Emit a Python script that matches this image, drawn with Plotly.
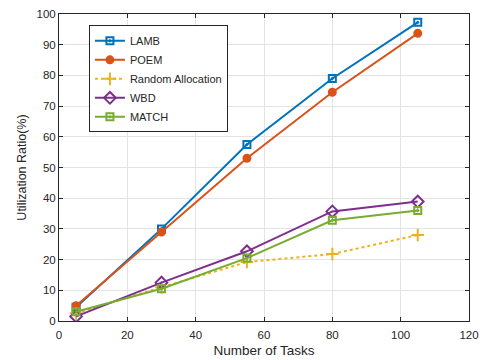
import plotly.graph_objects as go

tasks = [5, 30, 55, 80, 105]
lamb = [4.5, 30, 57.5, 79, 97.3]
poem = [5, 29, 53, 74.5, 93.7]
random_alloc = [2.5, 11, 19.2, 21.8, 28]
wbd = [1.5, 12.5, 22.7, 35.7, 38.9]
match = [3, 10.5, 20.5, 32.8, 36]

series = [
    ("LAMB", lamb, "#0072BD", "square-open-dot", "solid", 7),
    ("POEM", poem, "#D95319", "circle", "solid", 7),
    ("Random Allocation", random_alloc, "#EDB120", "cross-thin-open", "dot", 9),
    ("WBD", wbd, "#7E2F8E", "diamond-open", "solid", 9),
    ("MATCH", match, "#77AC30", "square-open-dot", "solid", 7),
]

fig = go.Figure()
for name, vals, color, sym, dash, size in series:
    fig.add_trace(go.Scatter(
        x=tasks, y=vals, name=name, mode="lines+markers",
        line=dict(color=color, width=2, dash=dash),
        marker=dict(symbol=sym, size=size, color=color,
                    line=dict(color=color, width=2)),
    ))

axis_common = dict(
    showline=True, linecolor="#262626", linewidth=1, mirror="ticks",
    ticks="inside", ticklen=4, tickcolor="#262626",
    showgrid=True, gridcolor="#e3e3e3", gridwidth=1, zeroline=False,
    automargin=False,
    tickfont=dict(family="Liberation Sans, Arial", size=11.5, color="#262626"),
)

fig.update_layout(
    width=483, height=360,
    margin=dict(l=59, r=14, t=14, b=39),
    paper_bgcolor="white", plot_bgcolor="white",
    font=dict(family="Liberation Sans, Arial", color="#262626"),
    xaxis=dict(range=[0, 120], dtick=20, ticklabelstandoff=3,
               title=dict(text="Number of Tasks", font=dict(size=13.5), standoff=5),
               **axis_common),
    yaxis=dict(range=[0, 100], dtick=10,
               title=dict(text="Utilization Ratio(%)", font=dict(size=12.5), standoff=7),
               **axis_common),
    legend=dict(x=0.073, y=0.963, xanchor="left", yanchor="top",
                bgcolor="white", bordercolor="#262626", borderwidth=1,
                font=dict(size=11), tracegroupgap=0, itemwidth=30),
    showlegend=True,
)

fig.write_html("out.html")
